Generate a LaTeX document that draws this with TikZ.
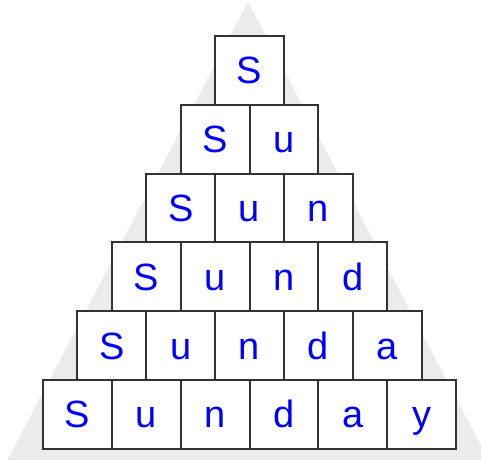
\documentclass[tikz,border=0pt]{standalone}
\usepackage{fontspec}
\setmainfont{Liberation Sans}
\usepackage{xcolor}
\usepackage{tikz}
\usetikzlibrary{positioning}
\definecolor{backdrop}{HTML}{EBEBEB}
\definecolor{cellline}{HTML}{333333}
\definecolor{letterblue}{HTML}{0000FF}

\tikzset{
  cell/.style={draw=cellline, line width=2pt, fill=white,
    minimum width=68.83pt, minimum height=68.83pt, inner sep=0pt,
    text=letterblue, font=\fontsize{38}{38}\selectfont,
    text height=27.8pt, text depth=1pt}
}

\begin{document}
\begin{tikzpicture}[x=1pt, y=-1pt]
    \useasboundingbox (0,0) rectangle (481,460);
    % Grey triangle behind
    \begin{scope}
      \clip (0,0) rectangle (481,460);
      \fill[backdrop] (248,2) -- (488.5,460) -- (7.5,460) -- cycle;
    \end{scope}
    % Letter rows
    \foreach \r in {1,...,6}{
      \foreach \l [count=\c] in {S,u,n,d,a,y}{
        \ifnum\c>\r\else
          \pgfmathsetmacro{\cx}{249.5 + (\c - (\r+1)/2)*68.83}
          \pgfmathsetmacro{\cy}{36 + (\r-0.5)*68.83}
          \node[cell] (cell-\r-\c) at (\cx,\cy) {\l};
        \fi
      }
    }
\end{tikzpicture}
\end{document}
